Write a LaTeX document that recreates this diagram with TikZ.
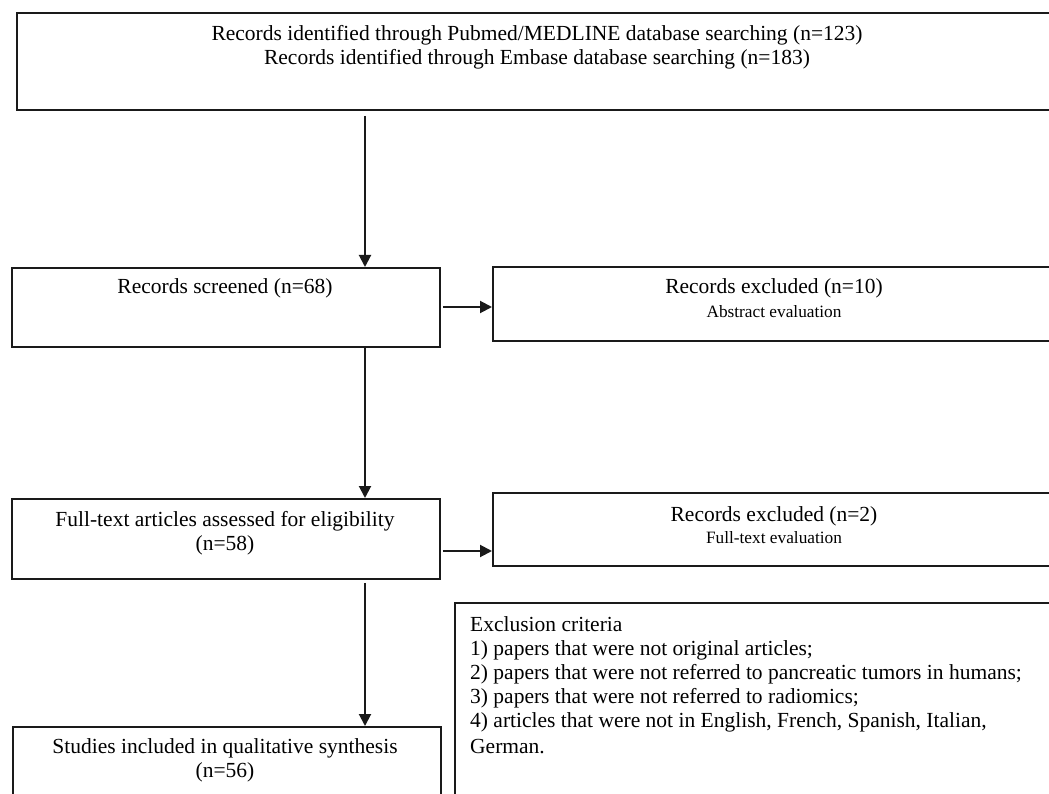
\documentclass[tikz,border=0pt]{standalone}
\usepackage{fontspec}
\setmainfont{Liberation Serif}
\usetikzlibrary{arrows.meta,positioning}
\definecolor{linec}{HTML}{1A1A1A}
\tikzset{
  boxst/.style={draw=linec, line width=1.8pt, fill=white, inner sep=0pt, anchor=north west},
  bigtxt/.style={font=\fontsize{21.5}{24}\selectfont, align=center, inner sep=0pt, text=black},
  smalltxt/.style={font=\fontsize{17.3}{19}\selectfont, align=center, inner sep=0pt, text=black},
  listtxt/.style={font=\fontsize{21.5}{24}\selectfont, align=left, inner sep=0pt, anchor=north west, text=black},
  arr/.style={draw=linec, line width=2pt, -{Triangle[length=12pt,width=12pt]}}
}
\begin{document}
\begin{tikzpicture}[x=1pt,y=-1pt]
\useasboundingbox (0,0) rectangle (1049,794);
\clip (0,0) rectangle (1049,794);
\fill[white] (0,0) rectangle (1049,794);
% boxes
\node[boxst, minimum width=1044pt, minimum height=97pt] (top) at (16,12) {};
\node[boxst, minimum width=428pt, minimum height=79pt] (screened) at (11,267) {};
\node[boxst, minimum width=560pt, minimum height=74pt] (excl1) at (492,266) {};
\node[boxst, minimum width=428pt, minimum height=80pt] (full) at (11,498) {};
\node[boxst, minimum width=560pt, minimum height=73pt] (excl2) at (492,492) {};
\node[boxst, minimum width=428pt, minimum height=90pt] (studies) at (12,726) {};
\node[boxst, minimum width=620pt, minimum height=210pt] (crit) at (454,602) {};
% texts
\node[bigtxt] (toptxt) at (537,47.5) {Records identified through Pubmed/MEDLINE database searching (n=123)\\Records identified through Embase database searching (n=183)};
\node[bigtxt] (scrtxt) at (225,288) {Records screened (n=68)};
\node[bigtxt] (ex1a) at (774,288.5) {Records excluded (n=10)};
\node[smalltxt] (ex1b) at (774,312) {Abstract evaluation};
\node[bigtxt] (fulltxt) at (225,533) {Full-text articles assessed for eligibility\\(n=58)};
\node[bigtxt] (ex2a) at (774,516.5) {Records excluded (n=2)};
\node[smalltxt] (ex2b) at (774,537.5) {Full-text evaluation};
\node[bigtxt] (studtxt) at (225,760) {Studies included in qualitative synthesis\\(n=56)};
\node[listtxt] (crittxt) at (470,616) {Exclusion criteria\\
1) papers that were not original articles;\\
2) papers that were not referred to pancreatic tumors in humans;\\
3) papers that were not referred to radiomics;\\
4) articles that were not in English, French, Spanish, Italian,\\[2.7pt]
German.};
% connectors
\coordinate (vx) at (365,0);
\draw[arr] (top.south -| vx) ++(0,5) -- (screened.north -| vx);
\draw[arr] (screened.south -| vx) -- (full.north -| vx);
\draw[arr] (full.south -| vx) ++(0,3) -- (studies.north -| vx);
\draw[arr] ([xshift=2pt]screened.east |- 0,307) -- (excl1.west |- 0,307);
\draw[arr] ([xshift=2pt]full.east |- 0,551) -- (excl2.west |- 0,551);
\end{tikzpicture}
\end{document}
